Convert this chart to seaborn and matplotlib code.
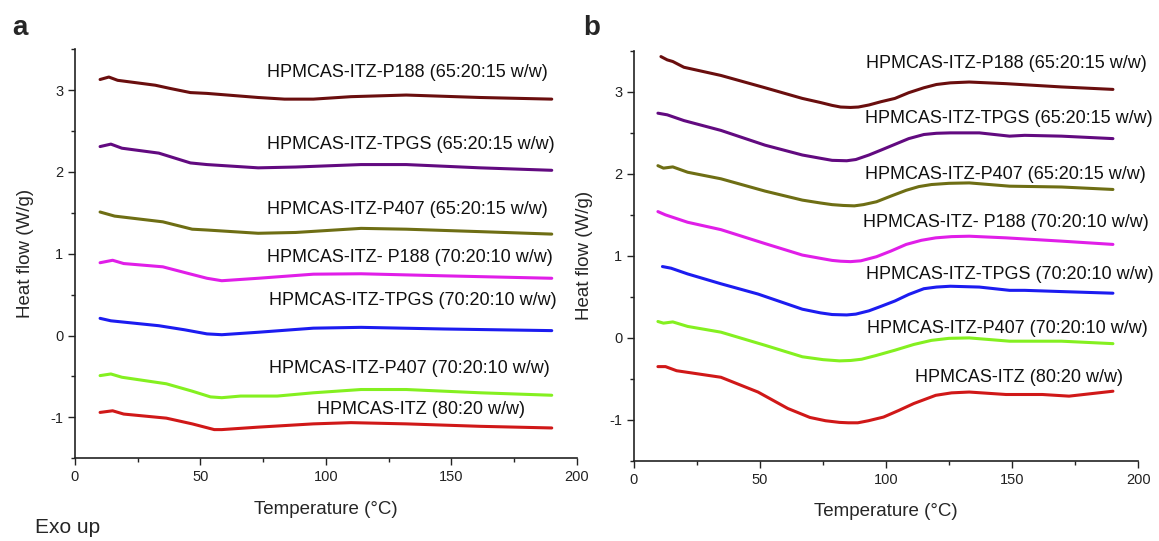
import matplotlib
matplotlib.use("Agg")
import matplotlib.pyplot as plt
import seaborn as sns
import pandas as pd
from matplotlib.ticker import MultipleLocator

# DSC curves: (temperature, heat flow) per sample
names = [
    "HPMCAS-ITZ-P188 (65:20:15 w/w)",
    "HPMCAS-ITZ-TPGS (65:20:15 w/w)",
    "HPMCAS-ITZ-P407 (65:20:15 w/w)",
    "HPMCAS-ITZ- P188 (70:20:10 w/w)",
    "HPMCAS-ITZ-TPGS (70:20:10 w/w)",
    "HPMCAS-ITZ-P407 (70:20:10 w/w)",
    "HPMCAS-ITZ (80:20 w/w)",
]
colors = ["#6a0e0e", "#620a80", "#6e6e14", "#e01ee8", "#1c1cf0", "#84f020", "#d01818"]

# panel a
a_t = [
    [10, 13.5, 17, 32, 38, 46, 52.6, 73, 83.5, 95, 110, 132, 161.5, 190],
    [10, 14.3, 18.7, 33.4, 46, 52.6, 73, 88, 114, 132, 161.5, 190],
    [10, 15.8, 35, 46.7, 52.6, 73, 88, 114, 132, 161.5, 190],
    [10, 15, 19.4, 35, 45, 52.6, 58.5, 73, 95, 114, 147, 190],
    [10, 14.3, 33.4, 43.7, 52.6, 58.5, 73, 95, 114, 147, 190],
    [10, 14.3, 18.7, 36.4, 46.7, 54, 58.5, 66, 80.6, 95, 114, 132, 161.5, 190],
    [10, 15, 19.4, 36.4, 46.7, 55.5, 58.5, 73, 95, 110, 132, 161.5, 190],
]
a_hf = [
    [3.13, 3.16, 3.12, 3.06, 3.02, 2.97, 2.96, 2.91, 2.89, 2.89, 2.92, 2.94, 2.91, 2.89],
    [2.31, 2.34, 2.29, 2.23, 2.11, 2.09, 2.05, 2.06, 2.09, 2.09, 2.05, 2.02],
    [1.51, 1.46, 1.39, 1.30, 1.29, 1.25, 1.26, 1.31, 1.30, 1.27, 1.24],
    [0.89, 0.92, 0.88, 0.84, 0.76, 0.70, 0.67, 0.70, 0.75, 0.755, 0.73, 0.70],
    [0.21, 0.18, 0.12, 0.07, 0.02, 0.01, 0.04, 0.09, 0.10, 0.08, 0.06],
    [-0.49, -0.47, -0.51, -0.59, -0.68, -0.75, -0.76, -0.74, -0.74, -0.70, -0.66, -0.66, -0.70, -0.73],
    [-0.94, -0.92, -0.96, -1.01, -1.08, -1.15, -1.15, -1.12, -1.08, -1.065, -1.08, -1.11, -1.13],
]
a_label_x = [76.6, 76.6, 76.6, 76.6, 77.5, 77.5, 96.5]
a_label_y = [3.22, 2.34, 1.54, 0.96, 0.43, -0.40, -0.90]

# panel b
b_t = [
    [10.7, 13.2, 15.4, 19.8, 34.5, 52, 66.8, 74, 78.6, 82, 85.9, 89, 93.2, 98, 103.5, 109, 115, 120, 125.5, 133, 147.6, 169.6, 190],
    [9.5, 13.2, 19.8, 34.5, 52, 66.8, 74, 78.6, 84.4, 88, 93.2, 98, 103.5, 109, 115, 120, 125.5, 137, 149, 155, 169.6, 190],
    [9.5, 11.7, 15.4, 21.3, 34.5, 52, 66.8, 74, 78.6, 83, 87.4, 91, 96.2, 102, 108, 113, 118, 125, 133, 149, 169.6, 190],
    [9.5, 12.5, 21.3, 34.5, 52, 66.8, 74, 78.6, 82, 85.9, 90, 96.2, 102, 108, 114, 119.7, 126, 133, 147.6, 169.6, 190],
    [11.3, 14.7, 21.3, 34.5, 49.2, 66.8, 74, 78.6, 84.4, 88, 93.2, 98, 103.5, 109, 115, 120, 125.5, 137, 149, 155, 169.6, 190],
    [9.5, 11.7, 15.4, 21.3, 34.5, 52, 66.8, 75, 81.5, 86, 90.3, 96, 103.5, 111, 118, 125, 133, 149, 169.6, 190],
    [9.5, 12.5, 16.9, 34.5, 49.2, 61, 69.8, 76, 81.5, 85, 88.8, 93, 99, 105, 111, 119.7, 126, 133, 147.6, 162, 172.6, 190],
]
b_hf = [
    [3.43, 3.39, 3.37, 3.30, 3.20, 3.05, 2.92, 2.87, 2.835, 2.815, 2.81, 2.815, 2.84, 2.88, 2.92, 2.99, 3.05, 3.09, 3.11, 3.12, 3.10, 3.06, 3.03],
    [2.74, 2.72, 2.65, 2.53, 2.35, 2.23, 2.19, 2.165, 2.16, 2.175, 2.23, 2.29, 2.36, 2.43, 2.48, 2.495, 2.50, 2.50, 2.46, 2.47, 2.46, 2.43],
    [2.10, 2.07, 2.085, 2.02, 1.94, 1.79, 1.68, 1.645, 1.625, 1.615, 1.61, 1.625, 1.66, 1.73, 1.80, 1.845, 1.87, 1.885, 1.89, 1.85, 1.84, 1.81],
    [1.54, 1.50, 1.41, 1.32, 1.15, 1.01, 0.97, 0.945, 0.935, 0.93, 0.94, 0.99, 1.06, 1.14, 1.19, 1.22, 1.235, 1.24, 1.22, 1.18, 1.14],
    [0.87, 0.85, 0.78, 0.66, 0.535, 0.35, 0.305, 0.285, 0.28, 0.29, 0.33, 0.385, 0.45, 0.53, 0.60, 0.62, 0.63, 0.62, 0.58, 0.58, 0.565, 0.545],
    [0.20, 0.18, 0.195, 0.14, 0.07, -0.09, -0.23, -0.265, -0.28, -0.275, -0.26, -0.215, -0.15, -0.08, -0.03, -0.005, 0.0, -0.04, -0.04, -0.07],
    [-0.35, -0.35, -0.40, -0.48, -0.66, -0.86, -0.97, -1.01, -1.03, -1.035, -1.035, -1.01, -0.965, -0.885, -0.80, -0.70, -0.67, -0.66, -0.69, -0.69, -0.71, -0.65],
]
b_label_x = [92.0, 91.7, 91.7, 91.0, 92.2, 92.5, 111.5]
b_label_y = [3.35, 2.67, 1.99, 1.41, 0.77, 0.12, -0.48]

sns.set_style("ticks")
plt.rcParams["font.family"] = ["Liberation Sans", "DejaVu Sans"]
plt.rcParams["axes.unicode_minus"] = False

fig = plt.figure(figsize=(11.59, 5.41), dpi=100)
ax_a = fig.add_axes([0.0647, 0.153, 0.433, 0.756])
ax_b = fig.add_axes([0.547, 0.148, 0.435, 0.758])


def draw_panel(ax, temps, flows, lx, ly):
    for i in range(len(names)):
        df = pd.DataFrame({"T": temps[i], "HF": flows[i]})
        sns.lineplot(data=df, x="T", y="HF", ax=ax, color=colors[i], lw=2.2,
                     sort=False, estimator=None)
        ax.text(lx[i], ly[i], names[i], fontsize=13, va="center", ha="left",
                color="#111111", clip_on=False)
    ax.set_xlim(0, 200)
    ax.set_ylim(-1.5, 3.5)
    ax.xaxis.set_major_locator(MultipleLocator(50))
    ax.xaxis.set_minor_locator(MultipleLocator(25))
    ax.yaxis.set_major_locator(MultipleLocator(1))
    ax.yaxis.set_minor_locator(MultipleLocator(0.5))
    ax.tick_params(which="major", length=5, width=1, labelsize=10.5, colors="#222222")
    ax.tick_params(which="minor", length=3, width=1, colors="#222222")
    ax.set_xlabel("Temperature (\u00b0C)", fontsize=13.5, labelpad=12)
    ax.set_ylabel("Heat flow (W/g)", fontsize=13.5, labelpad=12)
    for s in ["left", "bottom"]:
        ax.spines[s].set_color("#222222")
        ax.spines[s].set_linewidth(1.2)
    sns.despine(ax=ax)


draw_panel(ax_a, a_t, a_hf, a_label_x, a_label_y)
draw_panel(ax_b, b_t, b_hf, b_label_x, b_label_y)

fig.text(0.011, 0.935, "a", fontsize=20, fontweight="bold")
fig.text(0.503, 0.935, "b", fontsize=20, fontweight="bold")
fig.text(0.030, 0.008, "Exo up", fontsize=15, va="bottom")

fig.savefig("out.png", dpi=100)
